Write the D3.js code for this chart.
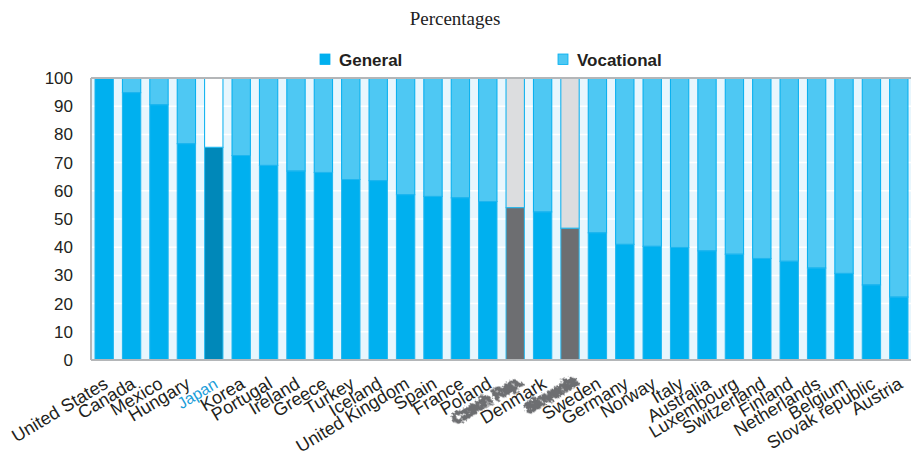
<!DOCTYPE html>
<html>
<head>
<meta charset="utf-8">
<script src="https://cdn.jsdelivr.net/npm/d3@7"></script>
<style>
  body { margin: 0; background: #fff; }
  svg { display: block; font-family: "Liberation Sans", Arial, sans-serif; }
</style>
</head>
<body>
<svg id="chart" width="911" height="456"></svg>
<script>
  // data
  var countries = ['United States', 'Canada', 'Mexico', 'Hungary', 'Japan', 'Korea', 'Portugal',
    'Ireland', 'Greece', 'Turkey', 'Iceland', 'United Kingdom', 'Spain', 'France', 'Poland',
    'Czech Rep.', 'Denmark', 'Slovenia', 'Sweden', 'Germany', 'Norway', 'Italy', 'Australia',
    'Luxembourg', 'Switzerland', 'Finland', 'Netherlands', 'Belgium', 'Slovak republic', 'Austria'];
  var general = [100, 94.8, 90.5, 76.7, 75.4, 72.5, 69, 67, 66.5, 64, 63.6, 58.6, 58, 57.5, 56.2,
    54, 52.5, 46.7, 45.1, 41, 40.3, 39.9, 38.7, 37.5, 36, 35, 32.6, 30.7, 26.6, 22.3];
  var vocational = general.map(function(g) { return +(100 - g).toFixed(1); });
  var yTicks = [0, 10, 20, 30, 40, 50, 60, 70, 80, 90, 100];
  var highlight = { 'Japan': 'japan', 'Czech Rep.': 'grey', 'Slovenia': 'grey' };

  var svg = d3.select('#chart');
  var margin = { left: 91, right: 912, top: 78, bottom: 360 };

  var x = d3.scaleBand()
    .domain(countries)
    .range([margin.left, margin.right])
    .paddingInner(0.33)
    .paddingOuter(0.146);

  var y = d3.scaleLinear()
    .domain([0, 100])
    .range([margin.bottom, margin.top]);

  // scribble filter for the masked labels
  var defs = svg.append('defs');
  var f = defs.append('filter').attr('id', 'scribble')
    .attr('x', '-30%').attr('y', '-60%').attr('width', '160%').attr('height', '220%');
  f.append('feTurbulence').attr('type', 'fractalNoise').attr('baseFrequency', 0.5)
    .attr('numOctaves', 2).attr('result', 'noise');
  f.append('feDisplacementMap').attr('in', 'SourceGraphic').attr('in2', 'noise')
    .attr('scale', 7);

  // title
  svg.append('text')
    .attr('x', 455).attr('y', 25)
    .attr('text-anchor', 'middle')
    .style('font-family', '"Liberation Serif", "Times New Roman", serif')
    .style('font-size', '19px')
    .attr('fill', '#222')
    .text('Percentages');

  // legend
  var legend = [
    { name: 'General', color: '#00b0ef', x: 320 },
    { name: 'Vocational', color: '#4ec8f3', x: 558 }
  ];
  var lg = svg.append('g').attr('class', 'legend');
  lg.selectAll('rect').data(legend).enter().append('rect')
    .attr('x', function(d) { return d.x; })
    .attr('y', 54)
    .attr('width', 10).attr('height', 10.5)
    .attr('fill', function(d) { return d.color; })
    .attr('stroke', '#00aeef').attr('stroke-width', 0.8);
  lg.selectAll('text').data(legend).enter().append('text')
    .attr('x', function(d) { return d.x + 19; })
    .attr('y', 66)
    .style('font-size', '17px')
    .style('font-weight', 'bold')
    .attr('fill', '#231f20')
    .text(function(d) { return d.name; });

  // plot background + grid
  svg.append('rect')
    .attr('x', margin.left).attr('y', margin.top)
    .attr('width', margin.right - margin.left)
    .attr('height', margin.bottom - margin.top)
    .attr('fill', '#e8f6fd');

  svg.append('g').attr('class', 'grid')
    .selectAll('line').data(yTicks.slice(1, -1)).enter().append('line')
    .attr('x1', margin.left).attr('x2', margin.right)
    .attr('y1', function(d) { return y(d); })
    .attr('y2', function(d) { return y(d); })
    .attr('stroke', '#ffffff').attr('stroke-width', 1.5);

  // bars
  var bars = svg.append('g').attr('class', 'bars')
    .selectAll('g').data(countries).enter().append('g');

  bars.append('rect')
    .attr('x', function(d) { return x(d); })
    .attr('width', x.bandwidth())
    .attr('y', function(d, i) { return y(100); })
    .attr('height', function(d, i) { return y(general[i]) - y(100); })
    .attr('fill', function(d) {
      var h = highlight[d];
      return h === 'japan' ? '#ffffff' : h === 'grey' ? '#dcdddf' : '#4ec8f3';
    })
    .attr('stroke', '#00aeef').attr('stroke-width', 1);

  bars.append('rect')
    .attr('x', function(d) { return x(d); })
    .attr('width', x.bandwidth())
    .attr('y', function(d, i) { return y(general[i]); })
    .attr('height', function(d, i) { return y(0) - y(general[i]); })
    .attr('fill', function(d) {
      var h = highlight[d];
      return h === 'japan' ? '#0088b9' : h === 'grey' ? '#6d6e71' : '#00b0ef';
    })
    .attr('stroke', function(d) { return highlight[d] ? '#2bbcf0' : '#1fb6ef'; })
    .attr('stroke-width', 1);

  // frame
  svg.append('line')
    .attr('x1', margin.left).attr('x2', margin.right)
    .attr('y1', margin.top).attr('y2', margin.top)
    .attr('stroke', '#b4b6b8').attr('stroke-width', 2);
  svg.append('line')
    .attr('x1', margin.left).attr('x2', margin.right)
    .attr('y1', margin.bottom).attr('y2', margin.bottom)
    .attr('stroke', '#b4b6b8').attr('stroke-width', 2);
  svg.append('line')
    .attr('x1', margin.left).attr('x2', margin.left)
    .attr('y1', margin.top).attr('y2', margin.bottom)
    .attr('stroke', '#b4b6b8').attr('stroke-width', 2);

  // y axis labels
  var yAxis = d3.axisLeft(y).tickValues(yTicks).tickSize(0).tickPadding(18);
  var ya = svg.append('g')
    .attr('transform', 'translate(' + margin.left + ',0)')
    .call(yAxis);
  ya.select('.domain').remove();
  ya.selectAll('text')
    .style('font-size', '17px')
    .style('font-family', '"Liberation Sans", Arial, sans-serif')
    .attr('fill', '#231f20');

  // x axis labels
  var xAxis = d3.axisBottom(x).tickSize(0).tickPadding(0);
  var xa = svg.append('g')
    .attr('transform', 'translate(0,' + margin.bottom + ')')
    .call(xAxis);
  xa.select('.domain').remove();
  xa.selectAll('text')
    .style('font-size', '18px')
    .style('font-family', '"Liberation Sans", Arial, sans-serif')
    .attr('fill', '#231f20')
    .attr('text-anchor', 'end')
    .attr('dy', 0)
    .attr('y', 0)
    .attr('transform', 'translate(5,27) rotate(-31)')
    .each(function(d) {
      var t = d3.select(this);
      if (highlight[d] === 'japan') {
        t.attr('fill', '#1a9dd9').style('font-size', '16px')
          .attr('transform', 'translate(5,27) rotate(-31)');
      } else if (highlight[d] === 'grey') {
        t.attr('fill', '#8a8b8d')
          .attr('stroke', '#6d6e71').attr('stroke-width', 3)
          .style('font-size', '15px')
          .attr('transform', 'translate(8,24) rotate(-31)')
          .attr('filter', 'url(#scribble)');
      }
    });
</script>
</body>
</html>
